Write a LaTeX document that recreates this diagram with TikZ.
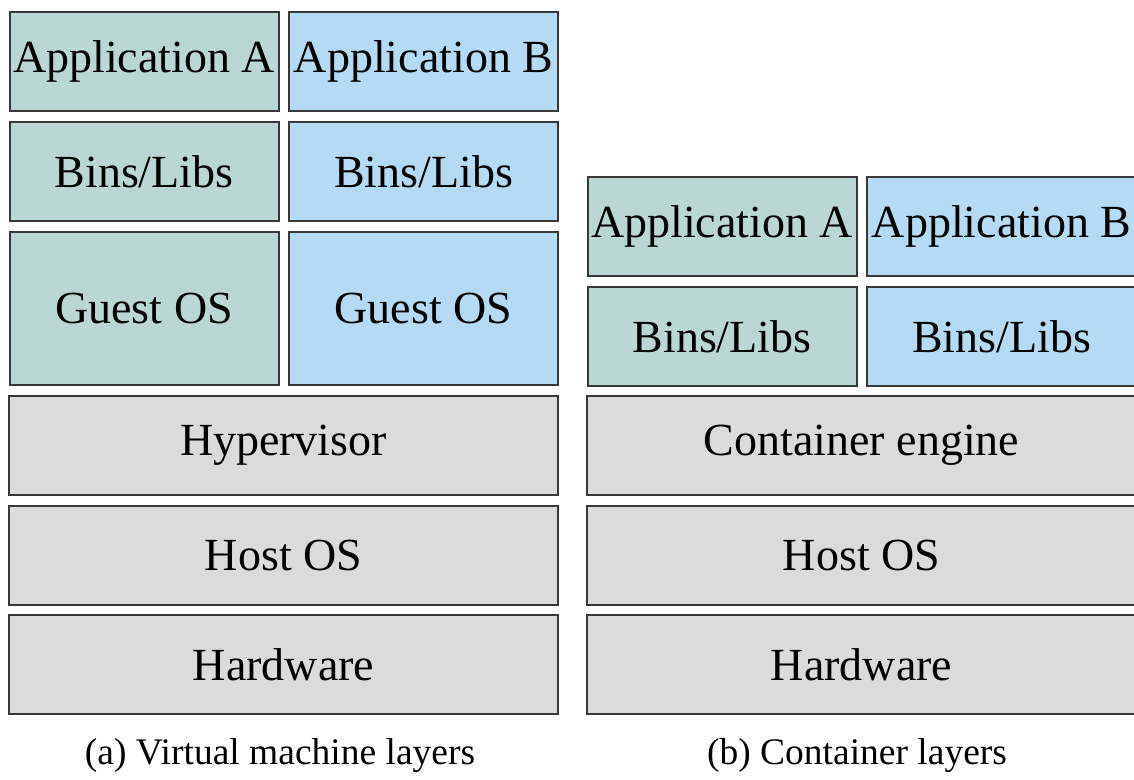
\documentclass[tikz,border=0pt]{standalone}
\usepackage{fontspec}
\setmainfont{Liberation Serif}
\definecolor{vmA}{HTML}{BAD7D5}
\definecolor{vmB}{HTML}{B5DAF3}
\definecolor{base}{HTML}{DBDBDB}
\definecolor{edge}{HTML}{383838}
\begin{document}
\begin{tikzpicture}[x=1pt,y=-1pt,
  layer/.style={draw=edge, line width=2pt, inner sep=0pt, anchor=center,
    font=\fontsize{46}{50}\selectfont},
  half/.style={layer, minimum width=269pt},
  full/.style={layer, fill=base, minimum width=549pt, minimum height=99pt},
  short/.style={minimum height=99pt},
  tall/.style={minimum height=153pt},
  appa/.style={half, fill=vmA},
  appb/.style={half, fill=vmB},
  caption/.style={font=\fontsize{37.5}{41}\selectfont, anchor=center}]
\useasboundingbox (0,0) rectangle (1134,779);
\clip (0,0) rectangle (1134,779);

% (a) virtual machine stack
\node[appa, short] (vmAppA)  at (144,61.5)    {Application A};
\node[appb, short] (vmAppB)  at (423.5,61.5)  {Application B};
\node[appa, short] (vmBinsA) at (144,171.5)   {Bins/Libs};
\node[appb, short] (vmBinsB) at (423.5,171.5) {Bins/Libs};
\node[appa, tall]  (vmOsA)   at (144,308.5)   {Guest OS};
\node[appb, tall]  (vmOsB)   at (423.5,308.5) {Guest OS};
\node[full] (hyper) at (283.5,445.5) {Hypervisor};
\node[full] (vmHost) at (283.5,555.5) {Host OS};
\node[full] (vmHw)   at (283.5,664.5) {Hardware};
\node[caption] (capA) at (280,756) {(a) Virtual machine layers};

% (b) container stack
\node[appa, short] (ctAppA)  at (722,226.5)    {Application A};
\node[appb, short] (ctAppB)  at (1001.5,226.5) {Application B};
\node[appa, short] (ctBinsA) at (722,336.5)    {Bins/Libs};
\node[appb, short] (ctBinsB) at (1001.5,336.5) {Bins/Libs};
\node[full] (engine) at (861.5,445.5) {Container engine};
\node[full] (ctHost) at (861.5,555.5) {Host OS};
\node[full] (ctHw)   at (861.5,664.5) {Hardware};
\node[caption] (capB) at (857,756) {(b) Container layers};
\end{tikzpicture}
\end{document}
